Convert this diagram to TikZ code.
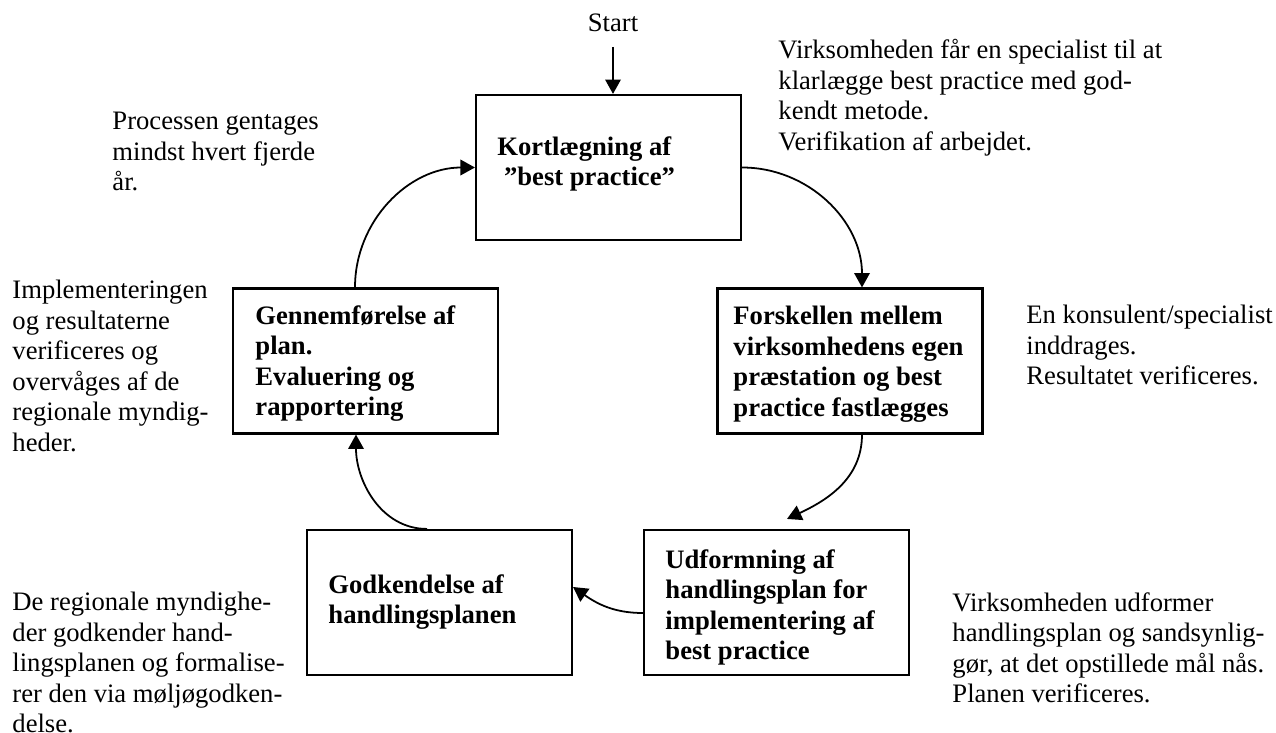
\documentclass[tikz,border=0pt]{standalone}
\usepackage{fontspec}
\setmainfont{Liberation Serif}
\usetikzlibrary{arrows.meta,calc}
\begin{document}
\begin{tikzpicture}[x=0.4506pt,y=-0.4506pt,
  box/.style={draw,line width=1pt,minimum width=119.4pt,minimum height=65.3pt,inner sep=0pt},
  txt/.style={font=\fontsize{12pt}{13.74pt}\selectfont,inner sep=0pt,anchor=north west,align=left},
  btxt/.style={txt,font=\fontsize{12pt}{13.74pt}\selectfont\bfseries},
  arr/.style={line width=0.8pt,-{Triangle[length=6.5pt,width=7pt]}}]
\useasboundingbox (0,0) rectangle (1276,733);
% boxes
\node[box] (k) at (608.5,167.5) {};
\node[box] (e) at (365.5,361) {};
\node[box] (f) at (850,361) {};
\node[box] (g) at (439.5,602.5) {};
\node[box] (u) at (776.5,602.5) {};
% box texts
\node[btxt] (kt) at (497,136) {Kortlægning af\\\hspace*{0.25em}”best practice”};
\node[btxt] (et) at (255,305) {Gennemførelse af\\plan.\\Evaluering og\\rapportering};
\node[btxt] (ft) at (733,306) {Forskellen mellem\\virksomhedens egen\\præstation og best\\practice fastlægges};
\node[btxt] (gt) at (328,574) {Godkendelse af\\handlingsplanen};
\node[btxt] (ut) at (665,549) {Udformning af\\handlingsplan for\\implementering af\\best practice};
% side texts
\node[txt,anchor=base] (start) at (613,32) {Start};
\node[txt] (t1) at (778,39) {Virksomheden får en specialist til at\\klarlægge best practice med god-\\kendt metode.\\Verifikation af arbejdet.};
\node[txt] (t2) at (112,112) {Processen gentages\\mindst hvert fjerde\\år.};
\node[txt] (t3) at (12,280) {Implementeringen\\og resultaterne\\verificeres og\\overvåges af de\\regionale myndig-\\heder.};
\node[txt] (t4) at (1026,305) {En konsulent/specialist\\inddrages.\\Resultatet verificeres.};
\node[txt] (t5) at (12,592) {De regionale myndighe-\\der godkender hand-\\lingsplanen og formalise-\\rer den via møljøgodken-\\delse.};
\node[txt] (t6) at (952,592) {Virksomheden udformer\\handlingsplan og sandsynlig-\\gør, at det opstillede mål nås.\\Planen verificeres.};
% connectors
\coordinate (s0) at ($(start.base)+(0,15)$);
\draw[arr] (s0) -- (s0 |- k.north);
\draw[arr] (k.east) to[out=0,in=90] ($(f.north)+(12,0)$);
\coordinate (uend) at ($(u.north)+(10.5,-10)$);
\draw[arr] ($(f.south)+(12,0)$) to[out=-90,in=25] (uend);
\draw[arr] ($(u.west)+(0,10.5)$) to[out=180,in=-35] ($(g.east)+(0,-15.5)$);
\draw[arr] ($(g.north)+(-12.5,0)$) to[out=180,in=-90] ($(e.south)+(-9.5,0)$);
\draw[arr] ($(e.north)+(-10.5,0)$) to[out=90,in=180] (k.west);
\end{tikzpicture}
\end{document}
